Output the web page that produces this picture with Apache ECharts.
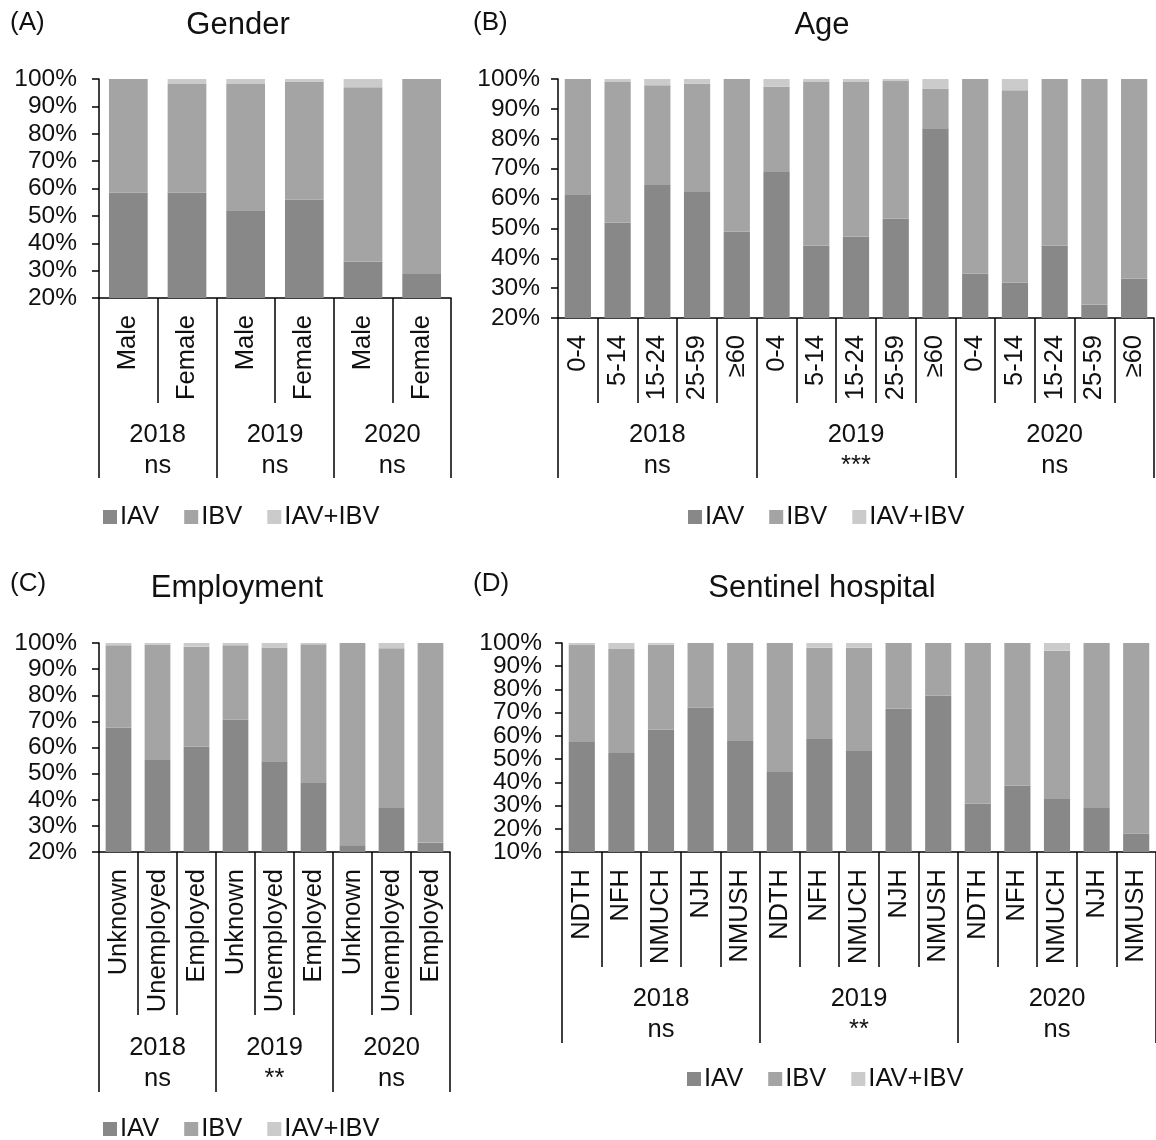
<!DOCTYPE html>
<html>
<head>
<meta charset="utf-8">
<script src="https://cdn.jsdelivr.net/npm/echarts@6/dist/echarts.min.js"></script>
<style>html,body{margin:0;padding:0;background:#fff}#c{width:1156px;height:1140px}</style>
</head>
<body>
<div id="c"></div>
<script>
// ---- data ----
const years = ['2018', '2019', '2020'];

const genderCats = ['Male', 'Female', 'Male', 'Female', 'Male', 'Female'];
const genderIAV = [58.5, 58.5, 52.1, 56.0, 33.2, 28.8];
const genderIBV = [41.5, 39.7, 46.1, 43.1, 63.8, 71.2];
const genderBoth = [0, 1.8, 1.8, 0.9, 3.0, 0];
const genderSig = ['ns', 'ns', 'ns'];

const ageCats = ['0-4', '5-14', '15-24', '25-59', '≥60', '0-4', '5-14', '15-24', '25-59', '≥60', '0-4', '5-14', '15-24', '25-59', '≥60'];
const ageIAV = [61.4, 51.9, 64.5, 62.2, 48.9, 69.1, 44.3, 47.2, 53.2, 83.5, 34.8, 31.8, 44.3, 24.5, 33.1];
const ageIBV = [38.6, 47.1, 33.4, 36.2, 51.1, 28.3, 54.7, 51.8, 46.1, 13.2, 65.2, 64.4, 55.7, 75.5, 66.9];
const ageBoth = [0, 1.0, 2.1, 1.6, 0, 2.6, 1.0, 1.0, 0.7, 3.3, 0, 3.8, 0, 0, 0];
const ageSig = ['ns', '***', 'ns'];

const empCats = ['Unknown', 'Unemployed', 'Employed', 'Unknown', 'Unemployed', 'Employed', 'Unknown', 'Unemployed', 'Employed'];
const empIAV = [67.6, 55.2, 60.3, 70.7, 54.7, 46.4, 22.6, 36.8, 23.6];
const empIBV = [31.5, 44.2, 38.3, 28.4, 43.6, 53.1, 77.4, 61.2, 76.4];
const empBoth = [0.9, 0.6, 1.4, 0.9, 1.7, 0.5, 0, 2.0, 0];
const empSig = ['ns', '**', 'ns'];

const hospCats = ['NDTH', 'NFH', 'NMUCH', 'NJH', 'NMUSH', 'NDTH', 'NFH', 'NMUCH', 'NJH', 'NMUSH', 'NDTH', 'NFH', 'NMUCH', 'NJH', 'NMUSH'];
const hospIAV = [57.7, 52.6, 62.8, 72.2, 58.1, 44.4, 58.7, 53.5, 71.7, 77.3, 30.8, 38.6, 33.1, 28.9, 17.9];
const hospIBV = [41.4, 44.8, 36.5, 27.8, 41.9, 55.6, 39.3, 44.5, 28.3, 22.7, 69.2, 61.4, 63.6, 71.1, 82.1];
const hospBoth = [0.9, 2.6, 0.7, 0, 0, 0, 2.0, 2.0, 0, 0, 0, 0, 3.3, 0, 0];
const hospSig = ['ns', '**', 'ns'];

const seriesNames = ['IAV', 'IBV', 'IAV+IBV'];
const colors = ['#888888', '#a4a4a4', '#cbcbcb'];

// ---- layout ----
const FONT = "'Liberation Sans', Arial, sans-serif";
const panels = [
  { cats: genderCats, vals: [genderIAV, genderIBV, genderBoth], sig: genderSig, min: 20,
    grid: { left: 99, top: 79, width: 352, height: 219 }, inner: 105, outer: 180, yearMargin: 121,
    legend: { left: 98, top: 499 }, stack: 'A', yMargin: 22 },
  { cats: ageCats, vals: [ageIAV, ageIBV, ageBoth], sig: ageSig, min: 20,
    grid: { left: 558, top: 79, width: 596, height: 239 }, inner: 85, outer: 160, yearMargin: 101,
    legend: { left: 683, top: 499 }, stack: 'B', yMargin: 18 },
  { cats: empCats, vals: [empIAV, empIBV, empBoth], sig: empSig, min: 20,
    grid: { left: 99, top: 643, width: 351, height: 209 }, inner: 163, outer: 240, yearMargin: 180,
    legend: { left: 98, top: 1111 }, stack: 'C', yMargin: 22 },
  { cats: hospCats, vals: [hospIAV, hospIBV, hospBoth], sig: hospSig, min: 10,
    grid: { left: 562, top: 643, width: 597, height: 209 }, inner: 115, outer: 191, yearMargin: 131,
    legend: { left: 682, top: 1061 }, stack: 'D', yMargin: 20, splitLabels: true }
];

const grid = [], xAxis = [], yAxis = [], series = [], legend = [];
const lineStyle = { color: '#000', width: 1.5 };
const yLabel = (margin) => ({ formatter: '{value}%', fontSize: 24.5, color: '#111', fontFamily: FONT, margin: margin,
                              showMinLabel: true, showMaxLabel: true });
panels.forEach((p, i) => {
  grid.push(Object.assign({ containLabel: false }, p.grid));
  // main category axis
  xAxis.push({
    type: 'category', gridIndex: i, data: p.cats, position: 'bottom',
    axisLine: { show: true, lineStyle: lineStyle },
    axisTick: { show: true, interval: 0, length: p.inner, lineStyle: lineStyle },
    axisLabel: { interval: 0, rotate: 90, margin: 17, fontSize: 25.5, color: '#111', fontFamily: FONT },
    splitLine: { show: false }
  });
  // year group axis
  const sig = p.sig;
  xAxis.push({
    type: 'category', gridIndex: i, data: years, position: 'bottom',
    axisLine: { show: false },
    axisTick: { show: true, interval: 0, length: p.outer, lineStyle: lineStyle },
    axisLabel: {
      interval: 0, margin: p.yearMargin, fontSize: 25.5, lineHeight: 31, color: '#111', fontFamily: FONT,
      formatter: (v, idx) => v + '\n' + sig[idx]
    },
    splitLine: { show: false }
  });
  yAxis.push({
    type: 'value', gridIndex: i, min: p.min, max: 100, interval: 10,
    axisLine: { show: true, lineStyle: lineStyle },
    axisTick: { show: true, length: 7, lineStyle: lineStyle },
    axisLabel: Object.assign(yLabel(p.yMargin), { show: !p.splitLabels }),
    splitLine: { show: false }
  });
  seriesNames.forEach((n, k) => {
    series.push({
      name: n, type: 'bar', stack: p.stack, xAxisIndex: i * 2, yAxisIndex: i,
      data: p.vals[k], barCategoryGap: '34%',
      itemStyle: { color: colors[k] }, clip: true
    });
  });
  legend.push({
    left: p.legend.left, top: p.legend.top, data: seriesNames, icon: 'rect',
    itemWidth: 14, itemHeight: 14, itemGap: 25,
    textStyle: { fontSize: 25.5, color: '#111', fontFamily: FONT, padding: [0, 0, 0, -2] }
  });
});

// Panel D: tick labels are dense, so they are split over two label-only axes
// (odd and even tens) sharing the same pixel scale as the main axis.
(function () {
  const p = panels[3], g = p.grid, step = g.height / ((100 - p.min) / 10);
  const extra = [
    { top: g.top + step, min: p.min, max: 100 - 10 },        // 10,30,50,70,90
    { top: g.top, min: p.min + 10, max: 100 }                 // 20,40,60,80,100
  ];
  extra.forEach(e => {
    const gi = grid.length;
    grid.push({ left: g.left, width: g.width, top: e.top, height: g.height - step });
    xAxis.push({ type: 'category', gridIndex: gi, data: p.cats, show: false });
    yAxis.push({
      type: 'value', gridIndex: gi, min: e.min, max: e.max, interval: 20,
      axisLine: { show: false }, axisTick: { show: false }, splitLine: { show: false },
      axisLabel: yLabel(p.yMargin)
    });
  });
})();

const txt = (x, y, s, size, align) => ({
  type: 'text', left: x, top: y,
  style: { text: s, fontSize: size, fontFamily: FONT, fill: '#111', textAlign: align || 'left' }
});

const graphic = [
  txt(10, 10, '(A)', 26), txt(473, 10, '(B)', 26), txt(10, 571, '(C)', 26), txt(473, 571, '(D)', 26),
  { type: 'text', x: 238, y: 25, style: { text: 'Gender', fontSize: 31, fontFamily: FONT, fill: '#111', textAlign: 'center', textVerticalAlign: 'middle' } },
  { type: 'text', x: 822, y: 25, style: { text: 'Age', fontSize: 31, fontFamily: FONT, fill: '#111', textAlign: 'center', textVerticalAlign: 'middle' } },
  { type: 'text', x: 237, y: 588, style: { text: 'Employment', fontSize: 31, fontFamily: FONT, fill: '#111', textAlign: 'center', textVerticalAlign: 'middle' } },
  { type: 'text', x: 822, y: 588, style: { text: 'Sentinel hospital', fontSize: 31, fontFamily: FONT, fill: '#111', textAlign: 'center', textVerticalAlign: 'middle' } }
];

const chart = echarts.init(document.getElementById('c'), null, { renderer: 'canvas' });
chart.setOption({
  animation: false,
  backgroundColor: '#fff',
  textStyle: { fontFamily: FONT },
  grid, xAxis, yAxis, series, legend, graphic
});
</script>
</body>
</html>
